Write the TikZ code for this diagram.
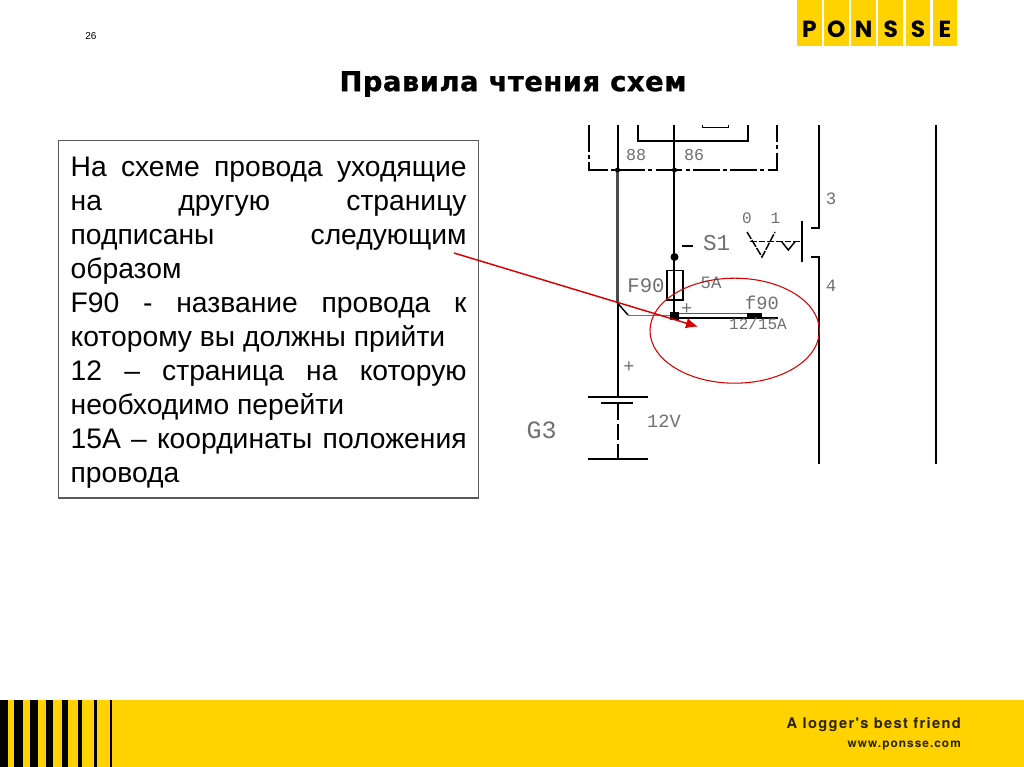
\documentclass[tikz,border=0pt]{standalone}
\usepackage{fontspec}
\usetikzlibrary{arrows.meta}
\setmainfont{Liberation Sans}
\newfontfamily\schemfont{Liberation Mono}
\newfontfamily\tagfont[LetterSpace=9]{TeX Gyre Heros}
\newfontfamily\titlefont[LetterSpace=2,BoldFeatures={FakeBold=1}]{DejaVu Sans}
\newfontfamily\logofont{Poppins}
\definecolor{ponsseyellow}{HTML}{FFD200}
\definecolor{schemgray}{HTML}{707070}
\definecolor{tagink}{HTML}{2A2200}
\tikzset{
  x=0.75pt,y=-0.75pt,
  wire/.style={black,line width=1.5pt},
  wirethin/.style={black,line width=1.1pt},
  graywire/.style={black!70,line width=1.6pt},
  dashdot/.style={black,line width=1.5pt,dash pattern=on 20pt off 2.5pt on 3pt off 2.5pt},
  schem/.style={font=\schemfont,text=schemgray,inner sep=0pt},
  redline/.style={red!85!black,line width=0.8pt},
  stripe/.style={fill=black,draw=none},
  logocell/.style={fill=ponsseyellow,draw=none,minimum width=18.6pt,minimum height=34.5pt,inner sep=0pt,anchor=north west,text=black,font=\logofont\bfseries\fontsize{17.5}{17.5}\selectfont,text depth=0pt},
}
\begin{document}
\begin{tikzpicture}
\useasboundingbox (0,0) rectangle (1024,767);
\fill[white] (0,0) rectangle (1024,767);
% footer
\node[fill=ponsseyellow,draw=none,minimum width=768pt,minimum height=50.25pt,inner sep=0pt,anchor=north west] (footer) at (0,700) {};
\foreach \a/\b in {0/8.3,14.3/23.3,30/38.3,46/52.7,62/67.7,78.3/82.3,94.3/96.7,110/111.7}
  \fill[stripe] (\a,700) rectangle (\b,767);
\node[anchor=east,inner sep=0pt,text=tagink,font=\tagfont\bfseries\fontsize{11}{12}\selectfont] (tagline) at (961,724.5) {A logger's best friend};
\node[anchor=east,inner sep=0pt,text=tagink,font=\tagfont\bfseries\fontsize{8.85}{10}\selectfont] (website) at (961,746) {www.ponsse.com};
% logo
\foreach \n/\x/\t in {lp/796.7/P,lo/823.7/O,ln/851/N,ls/878/S,lt/905.3/S,le/932.3/E}
  \node[logocell] (\n) at (\x,0) {\raisebox{-8.5pt}{\t}};
% header
\node[inner sep=0pt,font=\fontsize{7.5}{9}\selectfont] (page) at (91,36) {26};
\node[inner sep=0pt,font=\titlefont\bfseries\fontsize{20.5}{24}\selectfont] (title) at (513,84) {Правила чтения схем};
% text box
\node[draw=black!65,line width=1pt,anchor=north west,inner xsep=9pt,inner ysep=7pt,text width=297pt,align=justify,font=\fontsize{21.2}{25.5}\selectfont] (note) at (58,140) {\rule{0pt}{20pt}На схеме провода уходящие\linebreak на другую страницу\linebreak подписаны следующим\linebreak образом\\
F90 - название провода к\linebreak которому вы должны прийти\\
12 – страница на которую\linebreak необходимо перейти\\
15А – координаты положения\linebreak провода};
% schematic: relay frame
\draw[dashdot] (588.7,125) -- (588.7,170) -- (777,170) -- (777,125);
\draw[wire] (638,125) -- (638,141) -- (748,141) -- (748,125);
\draw[wirethin] (702.7,125) -- (702.7,127.5) -- (728.3,127.5) -- (728.3,125);
\draw[wire] (617.5,125) -- (617.5,170);
\draw[graywire] (617.5,170) -- (617.5,303);
\draw[wire] (617.5,303) -- (617.5,396.5);
\draw[wirethin] (674,125) -- (674,315);
\fill (617.5,170) circle (2.5);
\fill (674.5,170) circle (2.5);
% contacts
\draw[wire] (811,228) -- (819,228) -- (819,125);
\draw[wire] (811,256.5) -- (819,256.5) -- (819,464);
\draw[wire] (802,221) -- (802,262);
\draw[wire] (935.7,125) -- (935.7,464);
% switch
\draw[wirethin] (682,246) -- (693,246);
\draw[wirethin,dash pattern=on 6pt off 1pt] (747,232) -- (762,257) -- (775,232);
\draw[wirethin,dash pattern=on 5pt off 1.5pt] (750,241.7) -- (802,241.7);
\draw[wirethin] (781.7,241.7) -- (788.3,250) -- (795,241.7);
\fill (674.5,257) circle (4);
% fuse
\draw[wirethin] (667,270.5) rectangle (683,300);
% output wire
\draw[wirethin] (617.5,303) -- (628,315);
\draw[black!55,line width=1.2pt] (628,315.5) -- (674,315.5);
\draw[black!65,line width=0.8pt] (674,313.3) -- (750,313.3);
\draw[wire] (674,317.7) -- (778,317.7);
\fill (670,311.5) rectangle (679,320);
\fill (747,313) rectangle (762,319);
% battery
\draw[wire] (587.5,396.5) -- (648,396.5);
\draw[wire] (601,403) -- (632.5,403);
\draw[wire] (617.5,403) -- (617.5,420);
\draw[wire] (617.5,424) -- (617.5,440);
\draw[wire] (617.5,444) -- (617.5,459);
\draw[wire] (587.5,459) -- (648,459);
% schematic labels
\node[schem,font=\schemfont\fontsize{12.5}{14}\selectfont] (t88) at (636,155) {88};
\node[schem,font=\schemfont\fontsize{12.5}{14}\selectfont] (t86) at (694,155) {86};
\node[schem,font=\schemfont\fontsize{13}{14}\selectfont] (t3) at (831,199) {3};
\node[schem,font=\schemfont\fontsize{13}{14}\selectfont] (t4) at (831,286) {4};
\node[schem,font=\schemfont\fontsize{12}{14}\selectfont] (t0) at (747,218) {0};
\node[schem,font=\schemfont\fontsize{12}{14}\selectfont] (t1) at (775.5,218) {1};
\node[schem,font=\schemfont\fontsize{17}{18}\selectfont] (ts1) at (716.7,242.7) {S1};
\node[schem,font=\schemfont\fontsize{15.5}{18}\selectfont] (tf90) at (646,286) {F90};
\node[schem,font=\schemfont\fontsize{13}{14}\selectfont] (t5a) at (711,283) {5A};
\node[schem,font=\schemfont\fontsize{14}{14}\selectfont] (tplusa) at (686.7,309) {+};
\node[schem,font=\schemfont\fontsize{14}{16}\selectfont] (tf90b) at (762,303) {f90};
\node[schem,font=\schemfont\fontsize{12}{14}\selectfont] (tref) at (758,323.5) {12/15A};
\node[schem,font=\schemfont\fontsize{14}{14}\selectfont] (tplusb) at (629,367) {+};
\node[schem,font=\schemfont\fontsize{14}{16}\selectfont] (t12v) at (664,421) {12V};
\node[schem,font=\schemfont\fontsize{18.7}{20}\selectfont] (tg3) at (541.7,430.7) {G3};
% callout
\draw[redline] (734.7,330.7) ellipse [x radius=84.7,y radius=52.5];
\coordinate (cstart) at (454,253);
\coordinate (cend) at (698,326.7);
\draw[red!85!black,line width=1.1pt,-{Latex[length=9pt,width=8pt]}] (cstart) -- (cend);
\end{tikzpicture}
\end{document}
